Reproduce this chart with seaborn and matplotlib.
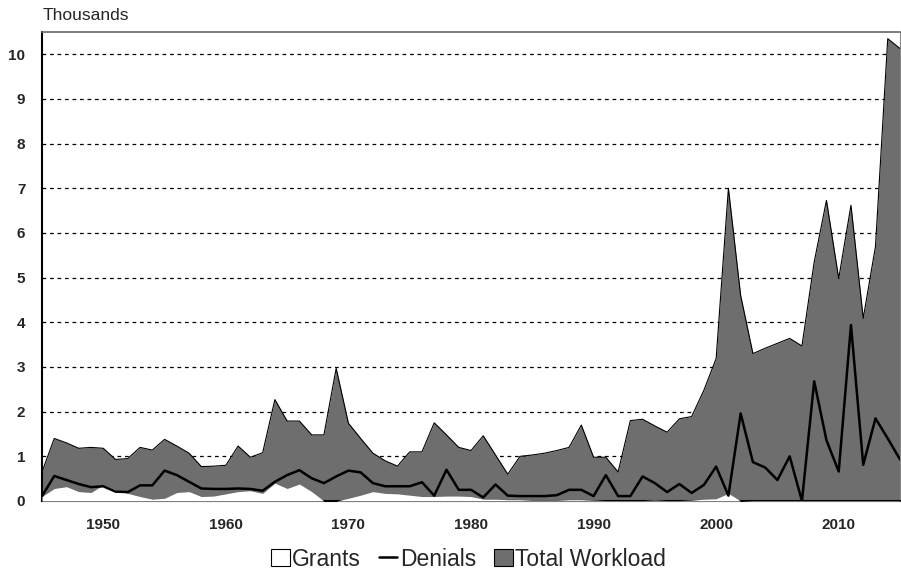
import numpy as np
import pandas as pd
import seaborn as sns
import matplotlib.pyplot as plt
from matplotlib.patches import Patch
from matplotlib.lines import Line2D

years = list(range(1945, 2016))

total = [0.65, 1.40, 1.30, 1.18, 1.20, 1.18, 0.93, 0.95, 1.20, 1.14,
         1.38, 1.23, 1.07, 0.77, 0.78, 0.80, 1.23, 0.98, 1.08, 2.27,
         1.79, 1.79, 1.48, 1.48, 2.97, 1.74, 1.40, 1.07, 0.90, 0.78,
         1.10, 1.10, 1.75, 1.48, 1.20, 1.13, 1.46, 1.03, 0.60, 1.00,
         1.03, 1.07, 1.13, 1.20, 1.70, 0.98, 0.98, 0.65, 1.80, 1.83,
         1.68, 1.54, 1.84, 1.89, 2.48, 3.19, 7.00, 4.60, 3.30, 3.42,
         3.53, 3.64, 3.47, 5.35, 6.73, 4.98, 6.62, 4.09, 5.70, 10.35,
         10.13]

denials = [0.11, 0.56, 0.47, 0.38, 0.31, 0.33, 0.21, 0.20, 0.35, 0.35,
           0.68, 0.58, 0.43, 0.28, 0.27, 0.27, 0.28, 0.27, 0.23, 0.43,
           0.58, 0.69, 0.51, 0.40, 0.55, 0.68, 0.64, 0.40, 0.33, 0.33,
           0.33, 0.42, 0.12, 0.70, 0.25, 0.25, 0.08, 0.37, 0.12, 0.11,
           0.11, 0.11, 0.13, 0.25, 0.25, 0.11, 0.58, 0.11, 0.11, 0.55,
           0.40, 0.20, 0.38, 0.18, 0.36, 0.77, 0.12, 1.96, 0.87, 0.75,
           0.47, 1.00, 0.00, 2.68, 1.36, 0.66, 3.94, 0.81, 1.85, 1.40,
           0.93]

grants = [0.10, 0.28, 0.32, 0.21, 0.19, 0.36, 0.25, 0.17, 0.10, 0.04,
          0.06, 0.19, 0.21, 0.10, 0.11, 0.16, 0.21, 0.23, 0.17, 0.40,
          0.28, 0.38, 0.21, 0.00, 0.00, 0.06, 0.13, 0.21, 0.17, 0.16,
          0.13, 0.10, 0.10, 0.11, 0.11, 0.10, 0.04, 0.04, 0.03, 0.03,
          0.02, 0.02, 0.02, 0.03, 0.03, 0.02, 0.01, 0.01, 0.01, 0.01,
          0.02, 0.01, 0.01, 0.02, 0.04, 0.05, 0.17, 0.00, 0.01, 0.01,
          0.01, 0.01, 0.01, 0.01, 0.01, 0.01, 0.01, 0.01, 0.01, 0.01,
          0.01]

xtick_years = [1950, 1960, 1970, 1980, 1990, 2000, 2010]

df = pd.DataFrame({"year": years, "total": total,
                   "denials": denials, "grants": grants})

sns.set_style("white")
plt.rcParams["font.family"] = ["Liberation Sans", "DejaVu Sans"]

fig = plt.figure(figsize=(9.01, 5.73), dpi=100)
ax = fig.add_axes([42 / 901, 72 / 573, 858 / 901, 469 / 573])

gray = "#6e6e6e"
ax.fill_between(df["year"], 0, df["total"], color=gray, lw=0, zorder=2)
ax.plot(df["year"], df["total"], color="black", lw=0.8, zorder=3)
ax.fill_between(df["year"], 0, df["grants"], color="white", lw=0, zorder=4)
sns.lineplot(data=df, x="year", y="denials", color="black", lw=1.8,
             ax=ax, zorder=5)

ax.set_xlim(1945, 2015)
ax.set_ylim(0, 10.5)
ax.set_yticks(range(0, 11))
ax.set_xticks(xtick_years)
ax.set_xlabel("")
ax.set_ylabel("")
for v in range(1, 11):
    ax.axhline(v, color="black", lw=0.9, ls=(0, (3, 3)), zorder=1)
ax.tick_params(axis="both", length=0, labelsize=11)
ax.tick_params(axis="y", pad=12)
ax.tick_params(axis="x", pad=12)
for lab in ax.get_xticklabels() + ax.get_yticklabels():
    lab.set_fontweight("bold")

for side in ["left", "bottom"]:
    ax.spines[side].set_color("black")
    ax.spines[side].set_linewidth(1.5)
ax.spines["top"].set_color("#666666")
ax.spines["top"].set_linewidth(1.2)
ax.spines["right"].set_color("#888888")
ax.spines["right"].set_linewidth(0.8)

fig.text(43 / 901, 1 - 15 / 573, "Thousands", fontsize=12.5, va="center", ha="left")

handles = [Patch(facecolor="white", edgecolor="black", lw=0.8),
           Line2D([0], [0], color="black", lw=1.8),
           Patch(facecolor=gray, edgecolor="black", lw=0.8)]
fig.legend(handles, ["Grants", "Denials", "Total Workload"], loc="center",
           bbox_to_anchor=(0.52, 1 - 559 / 573), ncol=3, frameon=False,
           fontsize=16.5, handlelength=0.8, handleheight=0.8,
           handletextpad=0.1, columnspacing=0.8, borderpad=0)

fig.savefig("out.png", dpi=100)
